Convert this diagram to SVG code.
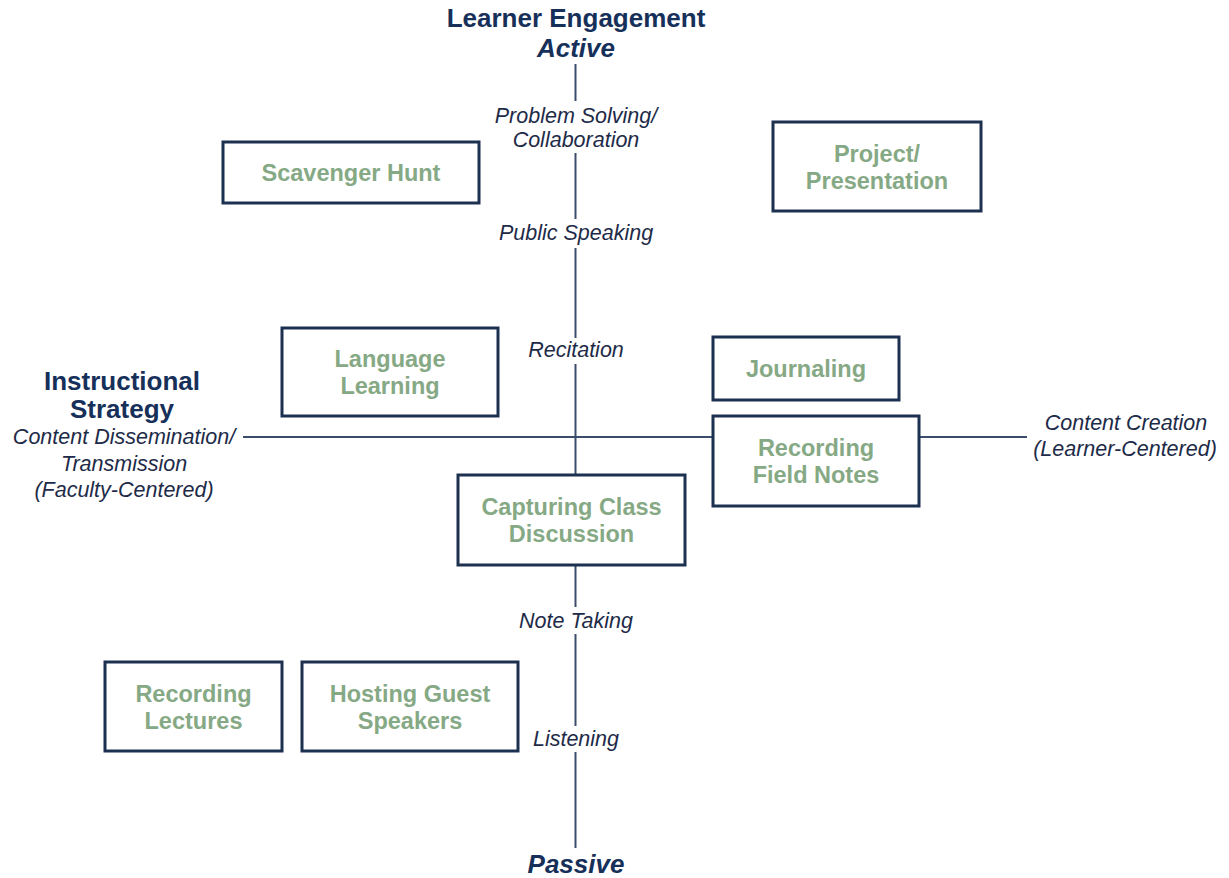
<svg xmlns="http://www.w3.org/2000/svg" width="1229" height="878" viewBox="0 0 1229 878">
<style>
.box{fill:#ffffff;stroke:#1c3050;stroke-width:3}
.bt{font-family:"Liberation Sans",Arial,sans-serif;font-weight:bold;font-size:23.5px;fill:#86a985;text-anchor:middle}
.title{font-family:"Liberation Sans",Arial,sans-serif;font-weight:bold;font-size:26px;fill:#16305a;text-anchor:middle}
.lbl{font-family:"Liberation Sans",Arial,sans-serif;font-style:italic;font-size:21.5px;fill:#1e2b48;text-anchor:middle}
.ax{stroke:#3a4c6a;stroke-width:2;fill:none}
</style>
<rect width="1229" height="878" fill="#ffffff"/>
<g id="connectors">
<line class="ax" x1="575.5" y1="64" x2="575.5" y2="101"/>
<line class="ax" x1="575.5" y1="153" x2="575.5" y2="219"/>
<line class="ax" x1="575.5" y1="248" x2="575.5" y2="338"/>
<line class="ax" x1="575.5" y1="364" x2="575.5" y2="475"/>
<line class="ax" x1="575.5" y1="565" x2="575.5" y2="607"/>
<line class="ax" x1="575.5" y1="634" x2="575.5" y2="726"/>
<line class="ax" x1="575.5" y1="752" x2="575.5" y2="848"/>
<line class="ax" x1="243" y1="437" x2="713" y2="437"/>
<line class="ax" x1="920" y1="437" x2="1027" y2="437"/>
</g>
<g id="axis-labels">
<text class="title" x="576" y="27">Learner Engagement</text>
<text class="title" x="576" y="57" font-style="italic">Active</text>
<text class="lbl" x="576" y="123">Problem Solving/</text>
<text class="lbl" x="576" y="147">Collaboration</text>
<text class="lbl" x="576" y="240">Public Speaking</text>
<text class="lbl" x="576" y="357">Recitation</text>
<text class="lbl" x="576" y="628">Note Taking</text>
<text class="lbl" x="576" y="746">Listening</text>
<text class="title" x="576" y="873" font-style="italic">Passive</text>
<text class="title" x="122" y="390">Instructional</text>
<text class="title" x="122" y="418">Strategy</text>
<text class="lbl" x="124" y="444">Content Dissemination/</text>
<text class="lbl" x="124" y="471">Transmission</text>
<text class="lbl" x="124" y="497">(Faculty-Centered)</text>
<text class="lbl" x="1126" y="430">Content Creation</text>
<text class="lbl" x="1125" y="456">(Learner-Centered)</text>
</g>
<g id="scavenger-hunt">
<rect class="box" x="223" y="142" width="256" height="61"/>
<text class="bt" x="351" y="181">Scavenger Hunt</text>
</g>
<g id="project-presentation">
<rect class="box" x="773" y="122" width="208" height="89"/>
<text class="bt" x="877" y="162">Project/</text>
<text class="bt" x="877" y="189">Presentation</text>
</g>
<g id="language-learning">
<rect class="box" x="282" y="328" width="216" height="88"/>
<text class="bt" x="390" y="367">Language</text>
<text class="bt" x="390" y="394">Learning</text>
</g>
<g id="journaling">
<rect class="box" x="713" y="337" width="186" height="63"/>
<text class="bt" x="806" y="377">Journaling</text>
</g>
<g id="recording-field-notes">
<rect class="box" x="713" y="416" width="206" height="90"/>
<text class="bt" x="816" y="456">Recording</text>
<text class="bt" x="816" y="483">Field Notes</text>
</g>
<g id="capturing-class-discussion">
<rect class="box" x="458" y="475" width="227" height="90"/>
<text class="bt" x="571.5" y="515">Capturing Class</text>
<text class="bt" x="571.5" y="542">Discussion</text>
</g>
<g id="recording-lectures">
<rect class="box" x="105" y="662" width="177" height="89"/>
<text class="bt" x="193.5" y="702">Recording</text>
<text class="bt" x="193.5" y="729">Lectures</text>
</g>
<g id="hosting-guest-speakers">
<rect class="box" x="302" y="662" width="216" height="89"/>
<text class="bt" x="410" y="702">Hosting Guest</text>
<text class="bt" x="410" y="729">Speakers</text>
</g>
</svg>
